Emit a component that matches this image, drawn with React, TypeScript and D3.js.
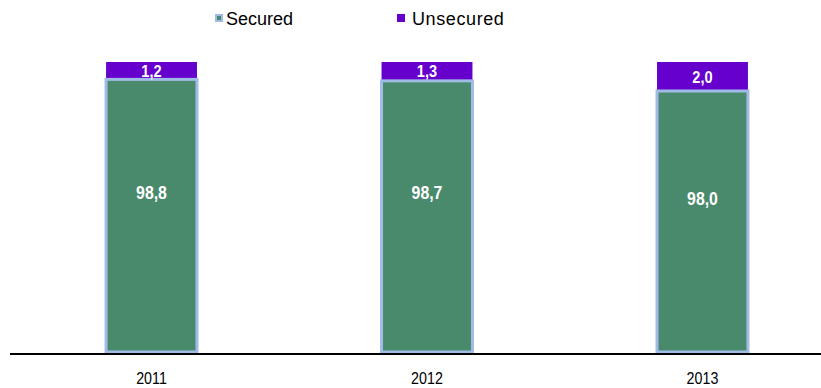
import React from "react";
import * as d3 from "d3";

const years = ["2011", "2012", "2013"];
const secured = [98.8, 98.7, 98.0];
const unsecured = [1.2, 1.3, 2.0];
const securedLabels = ["98,8", "98,7", "98,0"];
const unsecuredLabels = ["1,2", "1,3", "2,0"];
const yDomain = [80, 100];

const W = 821;
const H = 388;

function NarrowText(props: { x: number; y: number; size: number; sx: number; fill: string; bold?: boolean; children: React.ReactNode }) {
  return (
    <text
      transform={`translate(${props.x},${props.y}) scale(${props.sx},1)`}
      textAnchor="middle"
      fill={props.fill}
      fontFamily="'Liberation Sans', Arial, sans-serif"
      fontWeight={props.bold ? "bold" : "normal"}
      fontSize={props.size}
    >
      {props.children}
    </text>
  );
}

export default function App() {
  const x = d3.scaleBand().domain(years).range([-78.5, 932.5]).paddingInner(0.67).paddingOuter(0.67);
  const y = d3.scaleLinear().domain(yDomain).range([352, 62]).clamp(true);
  const bw = x.bandwidth();
  const sans = "'Liberation Sans', Arial, sans-serif";
  return (
    <svg width={W} height={H} style={{ position: "absolute", left: 0, top: 0, display: "block" }}>
      <rect width={W} height={H} fill="#fff" />
      {years.map((yr, i) => {
        const x0 = x(yr)!;
        const cx = x0 + bw / 2;
        const sTop = y(secured[i]);
        const sBot = y(yDomain[0]);
        const uTop = y(secured[i] + unsecured[i]);
        return (
          <g key={yr}>
            <rect x={x0} y={uTop} width={bw} height={sTop - uTop} fill="#6600cc" />
            <rect x={x0} y={sTop} width={bw} height={sBot - sTop} fill="#4a8a6c" stroke="#9fbbe6" strokeWidth={3} />
            <NarrowText x={cx} y={(uTop + sTop) / 2 + 6} size={17} sx={0.86} fill="#fff" bold>{unsecuredLabels[i]}</NarrowText>
            <NarrowText x={cx} y={(sTop + sBot) / 2 - 17} size={18} sx={0.88} fill="#fff" bold>{securedLabels[i]}</NarrowText>
            <NarrowText x={cx} y={384} size={17} sx={0.84} fill="#000">{yr}</NarrowText>
          </g>
        );
      })}
      <line x1={10} x2={W} y1={354} y2={354} stroke="#000" strokeWidth={2} />
      <g>
        <rect x={215} y={14} width={8} height={8} fill="#9fbbe6" />
        <rect x={217} y={16} width={4} height={4} fill="#4a8a6c" />
        <text x={226} y={25} fontFamily={sans} fontSize={18} fill="#000">Secured</text>
        <rect x={397} y={14} width={8} height={8} fill="#6600cc" />
        <text x={412} y={25} fontFamily={sans} fontSize={18} fill="#000" letterSpacing={0.6}>Unsecured</text>
      </g>
    </svg>
  );
}
